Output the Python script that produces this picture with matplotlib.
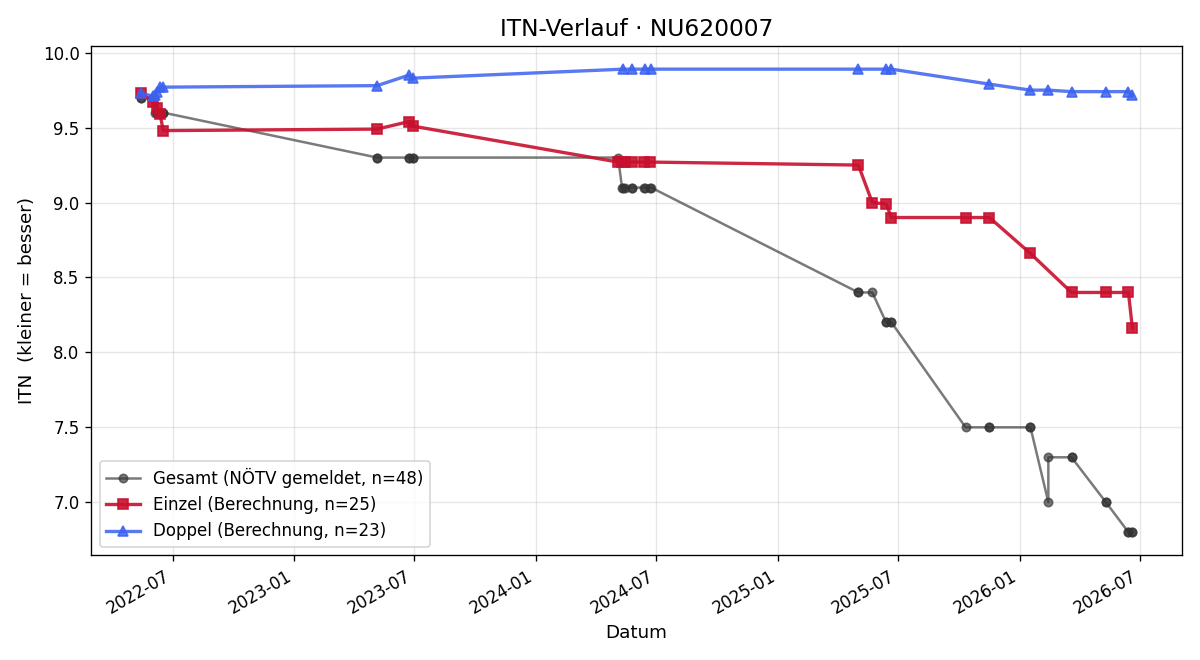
import matplotlib
matplotlib.use("Agg")
import matplotlib.pyplot as plt
import matplotlib.dates as mdates
import pandas as pd

# Einzel (Berechnung), n=25
einzel_dates = ["2022-05-14", "2022-06-01", "2022-06-08", "2022-06-12", "2022-06-17",
                "2023-05-06", "2023-06-23", "2023-06-29",
                "2024-05-04", "2024-05-10", "2024-05-15", "2024-05-25", "2024-06-12", "2024-06-21",
                "2025-05-02", "2025-05-23", "2025-06-13", "2025-06-21", "2025-10-11", "2025-11-16",
                "2026-01-17", "2026-03-20", "2026-05-11", "2026-06-14", "2026-06-20"]
einzel_itn = [9.73, 9.67, 9.63, 9.59, 9.48,
              9.49, 9.54, 9.51,
              9.27, 9.27, 9.27, 9.27, 9.27, 9.27,
              9.25, 9.00, 8.99, 8.90, 8.90, 8.90,
              8.66, 8.40, 8.40, 8.40, 8.16]

# Doppel (Berechnung), n=23
doppel_dates = ["2022-05-14", "2022-06-01", "2022-06-05", "2022-06-08", "2022-06-12", "2022-06-17",
                "2023-05-06", "2023-06-23", "2023-06-29",
                "2024-05-12", "2024-05-25", "2024-06-14", "2024-06-23",
                "2025-05-02", "2025-06-13", "2025-06-21", "2025-11-16",
                "2026-01-17", "2026-02-13", "2026-03-20", "2026-05-11", "2026-06-14", "2026-06-20"]
doppel_itn = [9.73, 9.71, 9.72, 9.74, 9.77, 9.77,
              9.78, 9.85, 9.83,
              9.89, 9.89, 9.89, 9.89,
              9.89, 9.89, 9.89, 9.79,
              9.75, 9.75, 9.74, 9.74, 9.74, 9.72]

# Gesamt (NÖTV gemeldet), n=48
gesamt_dates = ["2022-05-14", "2022-05-14", "2022-06-01", "2022-06-01", "2022-06-05",
                "2022-06-08", "2022-06-08", "2022-06-12", "2022-06-17", "2022-06-17",
                "2023-05-06", "2023-05-06", "2023-06-23", "2023-06-23", "2023-06-29", "2023-06-29",
                "2024-05-04", "2024-05-10", "2024-05-12", "2024-05-15", "2024-05-25", "2024-05-25",
                "2024-06-12", "2024-06-14", "2024-06-21", "2024-06-23",
                "2025-05-02", "2025-05-02", "2025-05-23", "2025-06-13", "2025-06-13",
                "2025-06-21", "2025-06-21", "2025-10-11", "2025-11-16", "2025-11-16",
                "2026-01-17", "2026-01-17", "2026-02-13", "2026-02-13", "2026-03-20", "2026-03-20",
                "2026-05-11", "2026-05-11", "2026-06-14", "2026-06-14", "2026-06-20", "2026-06-20"]
gesamt_itn = [9.7, 9.7, 9.7, 9.7, 9.6,
              9.6, 9.6, 9.6, 9.6, 9.6,
              9.3, 9.3, 9.3, 9.3, 9.3, 9.3,
              9.3, 9.1, 9.1, 9.1, 9.1, 9.1,
              9.1, 9.1, 9.1, 9.1,
              8.4, 8.4, 8.4, 8.2, 8.2,
              8.2, 8.2, 7.5, 7.5, 7.5,
              7.5, 7.5, 7.0, 7.3, 7.3, 7.3,
              7.0, 7.0, 6.8, 6.8, 6.8, 6.8]

fig, ax = plt.subplots(figsize=(10, 5.5), dpi=120)

ax.plot(pd.to_datetime(gesamt_dates), gesamt_itn, marker="o", color="#333333", alpha=0.65,
        linewidth=1.5, markersize=5, label="Gesamt (NÖTV gemeldet, n=48)")
ax.plot(pd.to_datetime(einzel_dates), einzel_itn, marker="s", color="#c8102e", alpha=0.9,
        linewidth=2, markersize=6, label="Einzel (Berechnung, n=25)")
ax.plot(pd.to_datetime(doppel_dates), doppel_itn, marker="^", color="#3c62f0", alpha=0.85,
        linewidth=2, markersize=6, label="Doppel (Berechnung, n=23)")

ax.set_title("ITN-Verlauf · NU620007", fontsize=14)
ax.set_xlabel("Datum", fontsize=11)
ax.set_ylabel("ITN  (kleiner = besser)", fontsize=11)
ax.grid(True, alpha=0.3)
ax.xaxis.set_major_locator(mdates.MonthLocator(bymonth=[1, 7]))
ax.xaxis.set_major_formatter(mdates.DateFormatter("%Y-%m"))
ax.legend(loc="lower left")
fig.autofmt_xdate()

fig.tight_layout()
fig.savefig("out.png")
